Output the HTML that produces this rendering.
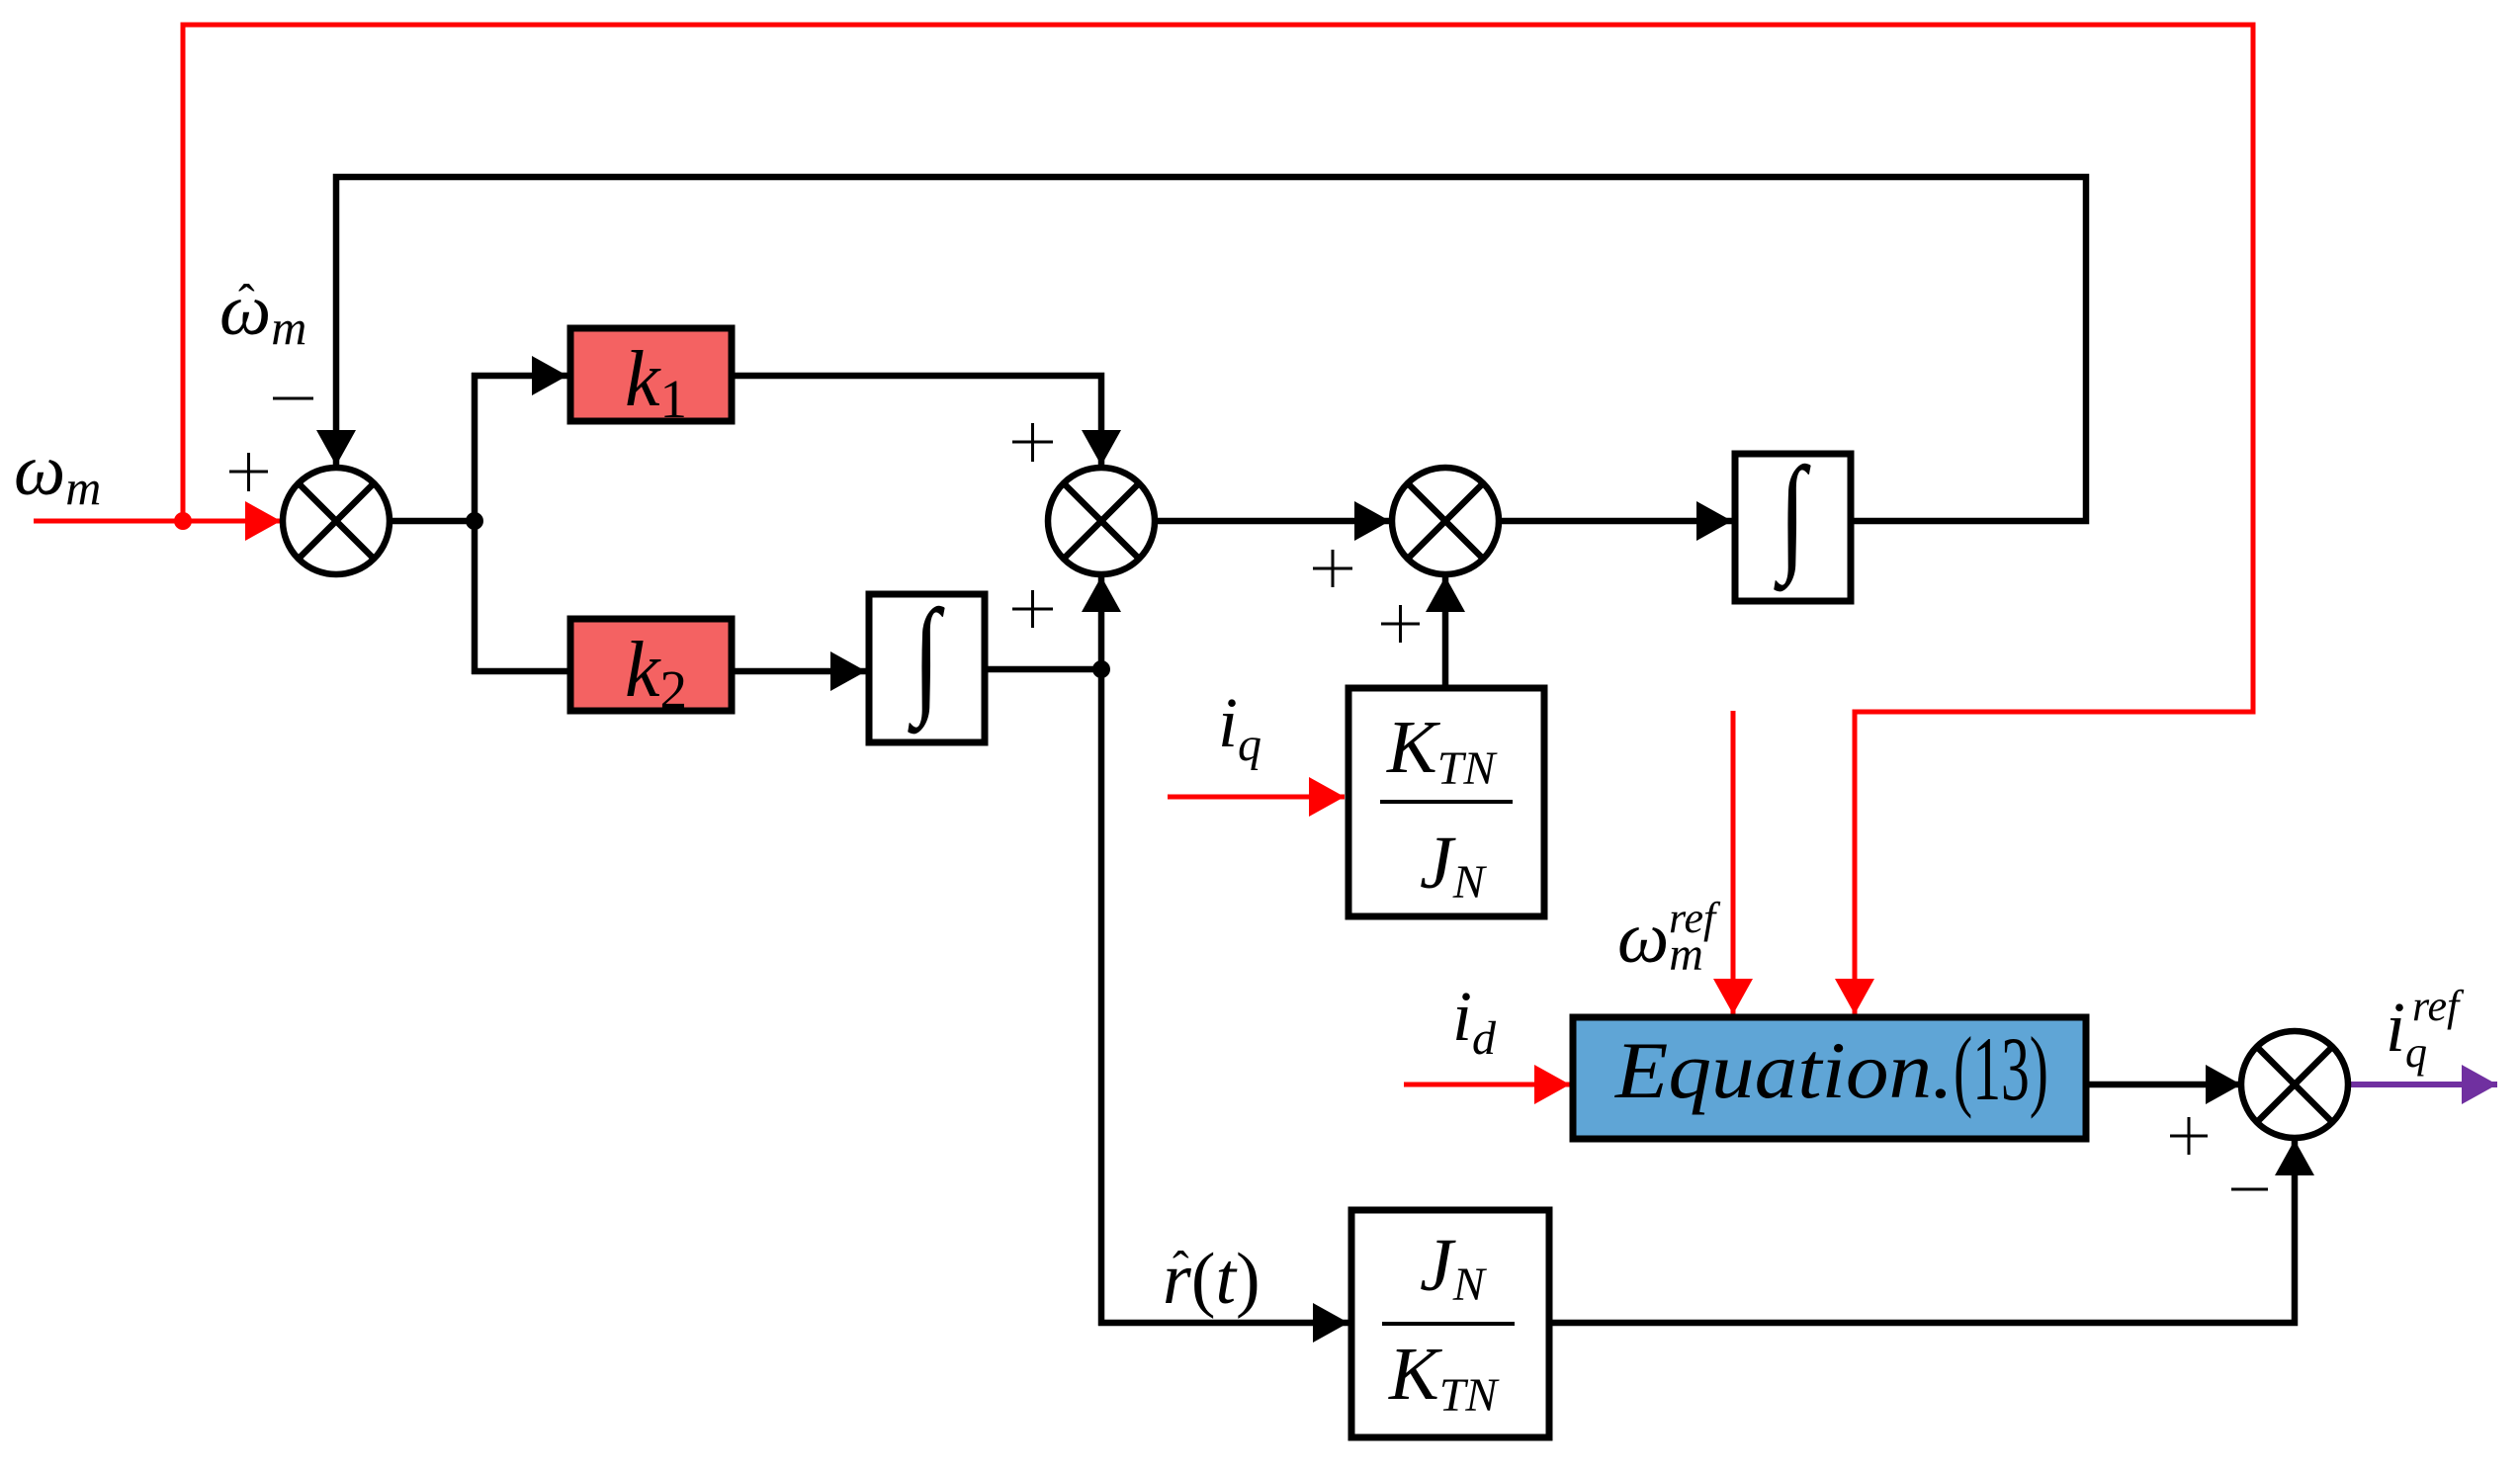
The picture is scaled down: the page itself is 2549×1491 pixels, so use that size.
<!DOCTYPE html>
<html><head><meta charset="utf-8"><style>html,body{margin:0;padding:0;background:#fff}svg{display:block}</style></head>
<body>
<svg width="2549" height="1491" viewBox="0 0 2549 1491" xmlns="http://www.w3.org/2000/svg" font-family="'Liberation Serif', serif">
<defs>
<marker id="ab" viewBox="0 0 36 40" refX="36" refY="20" markerWidth="36" markerHeight="40" markerUnits="userSpaceOnUse" orient="auto"><path d="M0,0 L36,20 L0,40 Z" fill="#000"/></marker>
<marker id="ar" viewBox="0 0 36 40" refX="36" refY="20" markerWidth="36" markerHeight="40" markerUnits="userSpaceOnUse" orient="auto"><path d="M0,0 L36,20 L0,40 Z" fill="#f00"/></marker>
<marker id="ap" viewBox="0 0 36 40" refX="36" refY="20" markerWidth="36" markerHeight="40" markerUnits="userSpaceOnUse" orient="auto"><path d="M0,0 L36,20 L0,40 Z" fill="#7030a0"/></marker>
</defs>

<g fill="none" stroke="#f00" stroke-width="5">
<polyline points="34,527 284,527" marker-end="url(#ar)"/>
<polyline points="185,527 185,25 2279,25 2279,720 1876,720 1876,1026" marker-end="url(#ar)"/>
<polyline points="1753,719 1753,1026" marker-end="url(#ar)"/>
<polyline points="1181,806 1360,806" marker-end="url(#ar)"/>
<polyline points="1420,1097 1588,1097" marker-end="url(#ar)"/>
</g>
<circle cx="185" cy="527" r="9" fill="#f00"/>

<g fill="none" stroke="#000" stroke-width="6.5">
<polyline points="1875,527 2110,527 2110,179 340,179 340,471" marker-end="url(#ab)"/>
<polyline points="396,527 480,527"/>
<polyline points="480,377 480,682"/>
<polyline points="477,380 574,380" marker-end="url(#ab)"/>
<polyline points="477,679 623,679" marker-end="url(#ab)"/>
<polyline points="743,380 1114,380 1114,471" marker-end="url(#ab)"/>
<polyline points="743,679 876,679" marker-end="url(#ab)"/>
<polyline points="999,677 1114,677"/>
<polyline points="1114,1341 1114,583" marker-end="url(#ab)"/>
<polyline points="1170,527 1406,527" marker-end="url(#ab)"/>
<polyline points="1518,527 1752,527" marker-end="url(#ab)"/>
<polyline points="1462,693 1462,583" marker-end="url(#ab)"/>
<polyline points="1111,1338 1364,1338" marker-end="url(#ab)"/>
<polyline points="1570,1338 2321,1338 2321,1153" marker-end="url(#ab)"/>
<polyline points="2113,1097 2267,1097" marker-end="url(#ab)"/>
</g>
<polyline points="2375,1097 2526,1097" fill="none" stroke="#7030a0" stroke-width="6" marker-end="url(#ap)"/>
<circle cx="480" cy="527" r="9" fill="#000"/>
<circle cx="1114" cy="677" r="9" fill="#000"/>

<g fill="#fff" stroke="#000" stroke-width="6.5">
<g transform="translate(340,527)"><circle r="54"/><path d="M-38,-38 L38,38 M38,-38 L-38,38"/></g>
<g transform="translate(1114,527)"><circle r="54"/><path d="M-38,-38 L38,38 M38,-38 L-38,38"/></g>
<g transform="translate(1462,527)"><circle r="54"/><path d="M-38,-38 L38,38 M38,-38 L-38,38"/></g>
<g transform="translate(2321,1097)"><circle r="54"/><path d="M-38,-38 L38,38 M38,-38 L-38,38"/></g>
</g>

<g stroke="#000" stroke-width="7">
<rect x="577" y="332" width="163" height="94" fill="#f46262"/>
<rect x="577" y="626" width="163" height="93" fill="#f46262"/>
<rect x="879" y="601" width="117" height="150" fill="#fff"/>
<rect x="1755" y="459" width="117" height="149" fill="#fff"/>
<rect x="1364" y="696" width="198" height="231" fill="#fff"/>
<rect x="1367" y="1224" width="200" height="230" fill="#fff"/>
<rect x="1591" y="1029" width="519" height="123" fill="#5fa5d6"/>
</g>
<g stroke="#000" stroke-width="4">
<line x1="1396" y1="811" x2="1530" y2="811"/>
<line x1="1398" y1="1339" x2="1532" y2="1339"/>
</g>

<g stroke="#000" stroke-width="3" fill="none">
<path d="M232,477 H271 M251.5,458 V497"/>
<path d="M276,403 H317"/>
<path d="M1024,447 H1065 M1044.5,428 V467"/>
<path d="M1024,616 H1065 M1044.5,597 V635"/>
<path d="M1328,575 H1368 M1348,556 V594"/>
<path d="M1397,631 H1436 M1416.5,612 V650"/>
<path d="M2195,1149 H2233 M2214,1130 V1168"/>
<path d="M2257,1203 H2294"/>
</g>

<g font-style="italic" fill="#000">
<text x="14" y="500" font-size="74">ω<tspan font-size="50" dy="10">m</tspan></text>
<text x="222" y="338" font-size="74">ω<tspan font-size="50" dy="10">m</tspan></text>
<text x="241" y="322" font-size="50" font-style="normal">ˆ</text>
<text x="632" y="410" font-size="80">k<tspan font-size="55" font-style="normal" dy="12">1</tspan></text>
<text x="632" y="704" font-size="80">k<tspan font-size="55" font-style="normal" dy="12">2</tspan></text>
<text x="1232" y="755" font-size="72">i<tspan font-size="48" dy="14">q</tspan></text>
<text x="1469" y="1052" font-size="72">i<tspan font-size="48" dy="14">d</tspan></text>
<text x="1636" y="973" font-size="74">ω<tspan font-size="48" dy="8">m</tspan></text>
<text x="1688" y="943" font-size="44">ref</text>
<text x="2413" y="1063" font-size="72">i<tspan font-size="44" dy="16">q</tspan></text>
<text x="2440" y="1032" font-size="44">ref</text>
<text x="1176" y="1318" font-size="74">r<tspan font-style="normal">(</tspan>t<tspan font-style="normal">)</tspan></text>
<text x="1186" y="1300" font-size="50" font-style="normal">ˆ</text>
<text x="1634" y="1110" font-size="82" textLength="342" lengthAdjust="spacingAndGlyphs">Equation.</text>
<text x="1976" y="1112" font-size="92" font-style="normal" textLength="96" lengthAdjust="spacingAndGlyphs">(13)</text>
<text x="1403" y="781" font-size="76">K<tspan font-size="48" dy="12">TN</tspan></text>
<text x="1436" y="898" font-size="76">J<tspan font-size="48" dy="10">N</tspan></text>
<text x="1436" y="1305" font-size="76">J<tspan font-size="48" dy="10">N</tspan></text>
<text x="1405" y="1415" font-size="76">K<tspan font-size="48" dy="12">TN</tspan></text>
<text transform="translate(937,707) scale(0.9,1.2)" font-size="110" text-anchor="middle" font-style="normal">∫</text>
<text transform="translate(1813,563) scale(0.9,1.2)" font-size="110" text-anchor="middle" font-style="normal">∫</text>
</g>
</svg>
</body></html>
